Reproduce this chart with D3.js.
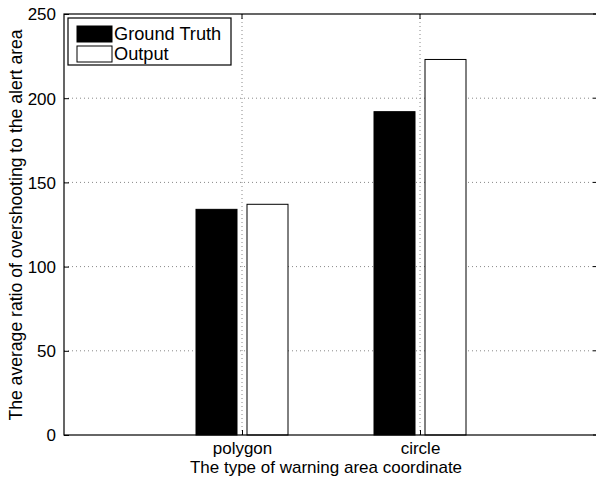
<!DOCTYPE html>
<html><head><meta charset="utf-8">
<script src="https://cdn.jsdelivr.net/npm/d3@7"></script>
<style>body{margin:0;background:#fff}svg{display:block}text{font-family:"Liberation Sans",Arial,sans-serif;fill:#000}</style>
</head><body><svg id="c" width="596" height="484"></svg>
<script>
const categories = ["polygon", "circle"];
const seriesNames = ["Ground Truth", "Output"];
const groundTruth = [134, 192];
const output = [137, 223];
const yTicks = [0, 50, 100, 150, 200, 250];

const svg = d3.select("#c");
const m = {l: 64, t: 14, r: 598, b: 435};
const x = d3.scaleLinear().domain([0, 3]).range([m.l, m.r]);
const y = d3.scaleLinear().domain([0, 250]).range([m.b, m.t]);
const fills = ["#000", "#fff"];
const barW = 41, off = 25.5;
const FS = 17;

// grid
const g = svg.append("g");
g.selectAll(".gy").data(yTicks.slice(1, -1)).join("line")
  .attr("x1", m.l).attr("x2", m.r).attr("y1", d => y(d)).attr("y2", d => y(d))
  .attr("stroke", "#888").attr("stroke-width", 1).attr("stroke-dasharray", "1,3");
g.selectAll(".gx").data(categories).join("line")
  .attr("x1", (d, i) => x(i + 1)).attr("x2", (d, i) => x(i + 1)).attr("y1", m.t).attr("y2", m.b)
  .attr("stroke", "#888").attr("stroke-width", 1).attr("stroke-dasharray", "1,3");

// bars
[groundTruth, output].forEach((vals, s) => {
  svg.append("g").selectAll("rect").data(vals).join("rect")
    .attr("x", (d, i) => x(i + 1) + (s === 0 ? -off : off) - barW / 2)
    .attr("width", barW)
    .attr("y", d => y(d)).attr("height", d => y(0) - y(d))
    .attr("fill", fills[s]).attr("stroke", "#000").attr("stroke-width", 1);
});

// axes
const ax = svg.append("g").attr("transform", `translate(0,${m.b})`)
  .call(d3.axisBottom(x).tickValues([1, 2]).tickFormat((d) => categories[d - 1]).tickSizeInner(-5).tickSizeOuter(0).tickPadding(7));
const ay = svg.append("g").attr("transform", `translate(${m.l},0)`)
  .call(d3.axisLeft(y).tickValues(yTicks).tickSizeInner(-5).tickSizeOuter(0).tickPadding(8));
[ax, ay].forEach(a => { a.attr("font-size", FS).attr("font-family", '"Liberation Sans",Arial,sans-serif'); a.selectAll("text").attr("font-size", FS); a.select(".domain").remove(); });
ax.selectAll("text").attr("dy", "0.72em");
ay.selectAll("text").attr("dy", "0.35em");
// top/right ticks
svg.append("g").selectAll("line").data(yTicks).join("line")
  .attr("x1", m.r).attr("x2", m.r - 5).attr("y1", d => y(d)).attr("y2", d => y(d)).attr("stroke", "#000");
svg.append("g").selectAll("line").data([1, 2]).join("line")
  .attr("x1", d => x(d)).attr("x2", d => x(d)).attr("y1", m.t).attr("y2", m.t + 5).attr("stroke", "#000");

svg.append("rect").attr("x", m.l).attr("y", m.t).attr("width", m.r - m.l).attr("height", m.b - m.t)
  .attr("fill", "none").attr("stroke", "#000").attr("stroke-width", 1.2);

// labels
svg.append("text").attr("x", 326).attr("y", 473).attr("text-anchor", "middle").attr("font-size", FS)
  .text("The type of warning area coordinate");
svg.append("text").attr("transform", `translate(22,225) rotate(-90)`).attr("text-anchor", "middle").attr("font-size", 17.6)
  .text("The average ratio of overshooting to the alert area");

// legend
const lg = svg.append("g");
lg.append("rect").attr("x", 68).attr("y", 18).attr("width", 163).attr("height", 47).attr("fill", "#fff").attr("stroke", "#000").attr("stroke-width", 1.2);
seriesNames.forEach((n, i) => {
  lg.append("rect").attr("x", 77).attr("y", 26 + i * 20).attr("width", 35).attr("height", 16)
    .attr("fill", fills[i]).attr("stroke", "#000");
  lg.append("text").attr("x", 114).attr("y", 40 + i * 20).attr("font-size", 18.2).text(n);
});
</script></body></html>
